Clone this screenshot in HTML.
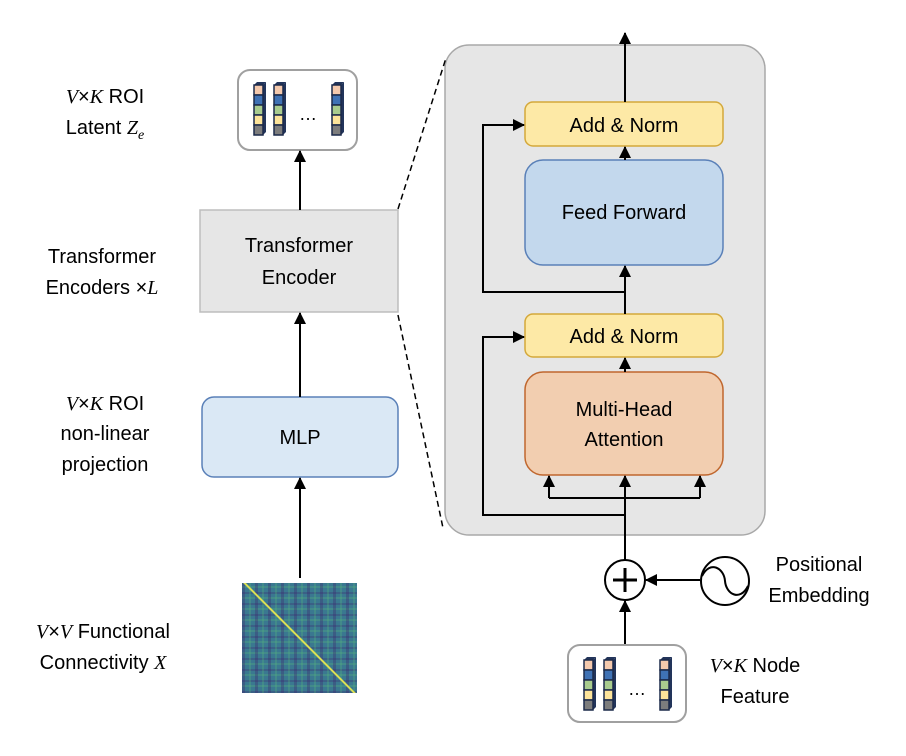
<!DOCTYPE html>
<html><head><meta charset="utf-8"><style>
body{margin:0;background:#fff;}
svg text{font-family:"Liberation Sans",sans-serif;}
.hm{position:absolute;left:242px;top:583px;width:115px;height:110px;
background:
linear-gradient(45deg,transparent 49.2%,#d6e05a 49.6%,#e8e64a 50.4%,transparent 50.8%),
repeating-linear-gradient(90deg,rgba(60,40,110,.35) 0 3px,transparent 3px 7px,rgba(90,190,120,.25) 7px 9px,transparent 9px 13px),
repeating-linear-gradient(0deg,rgba(60,40,110,.3) 0 2px,transparent 2px 6px,rgba(90,190,120,.25) 6px 8px,transparent 8px 11px),
#3a7890;}
</style></head><body>
<div class="hm"></div>
<svg width="906" height="756" style="position:absolute;left:0;top:0" xmlns="http://www.w3.org/2000/svg">
<defs>
<marker id="a" markerWidth="12" markerHeight="12" refX="11" refY="6" orient="auto" markerUnits="userSpaceOnUse"><path d="M0,0 L12,6 L0,12 z" fill="#000"/></marker>
<g id="col">
<polygon points="0,0 3,-3 12,-3 9,0" fill="#22345a"/>
<polygon points="9,0 12,-3 12,47 9,50" fill="#22345a"/>
<rect x="0" y="0" width="9" height="10" fill="#f4c9ad" stroke="#1c2a4a" stroke-width="1.5"/>
<rect x="0" y="10" width="9" height="10" fill="#3f72b5" stroke="#1c2a4a" stroke-width="1.5"/>
<rect x="0" y="20" width="9" height="10" fill="#a9cc8e" stroke="#1c2a4a" stroke-width="1.5"/>
<rect x="0" y="30" width="9" height="10" fill="#fde49a" stroke="#1c2a4a" stroke-width="1.5"/>
<rect x="0" y="40" width="9" height="10" fill="#7d7d7d" stroke="#1c2a4a" stroke-width="1.5"/>
</g>
</defs>
<rect x="445" y="45" width="320" height="490" rx="24" fill="#e6e6e6" stroke="#a8a8a8" stroke-width="1.5"/>
<line x1="398" y1="209" x2="446" y2="58" stroke="#000" stroke-width="1.5" stroke-dasharray="6,4"/>
<line x1="398" y1="315" x2="443" y2="528" stroke="#000" stroke-width="1.5" stroke-dasharray="6,4"/>
<rect x="238" y="70" width="119" height="80" rx="12" fill="#fff" stroke="#a0a0a0" stroke-width="2"/>
<use href="#col" x="254" y="85"/><use href="#col" x="274" y="85"/><use href="#col" x="332" y="85"/>
<text x="308" y="120" font-size="18" text-anchor="middle">…</text>
<rect x="200" y="210" width="198" height="102" fill="#e6e6e6" stroke="#bdbdbd" stroke-width="1.5"/>
<text x="299" y="252" font-size="20" text-anchor="middle">Transformer</text>
<text x="299" y="284" font-size="20" text-anchor="middle">Encoder</text>
<rect x="202" y="397" width="196" height="80" rx="12" fill="#dae8f5" stroke="#5a80b8" stroke-width="1.5"/>
<text x="300" y="444" font-size="20" text-anchor="middle">MLP</text>
<line x1="300" y1="578" x2="300" y2="478" stroke="#000" stroke-width="2" marker-end="url(#a)"/>
<line x1="300" y1="397" x2="300" y2="313" stroke="#000" stroke-width="2" marker-end="url(#a)"/>
<line x1="300" y1="210" x2="300" y2="151" stroke="#000" stroke-width="2" marker-end="url(#a)"/>
<g font-size="20" text-anchor="middle">
<text x="105" y="103"><tspan font-family="Liberation Serif" font-style="italic">V</tspan>×<tspan font-family="Liberation Serif" font-style="italic">K</tspan> ROI</text>
<text x="105" y="134">Latent <tspan font-family="Liberation Serif" font-style="italic">Z</tspan><tspan font-family="Liberation Serif" font-style="italic" font-size="14" dy="5">e</tspan></text>
<text x="102" y="263">Transformer</text>
<text x="102" y="294">Encoders ×<tspan font-family="Liberation Serif" font-style="italic">L</tspan></text>
<text x="105" y="410"><tspan font-family="Liberation Serif" font-style="italic">V</tspan>×<tspan font-family="Liberation Serif" font-style="italic">K</tspan>  ROI</text>
<text x="105" y="440">non-linear</text>
<text x="105" y="471">projection</text>
<text x="103" y="638"><tspan font-family="Liberation Serif" font-style="italic">V</tspan>×<tspan font-family="Liberation Serif" font-style="italic">V</tspan> Functional</text>
<text x="103" y="669">Connectivity <tspan font-family="Liberation Serif" font-style="italic">X</tspan></text>
</g>
<rect x="525" y="102" width="198" height="44" rx="8" fill="#fde9a6" stroke="#d4a83a" stroke-width="1.5"/>
<text x="624" y="132" font-size="20" text-anchor="middle">Add &amp; Norm</text>
<rect x="525" y="160" width="198" height="105" rx="18" fill="#c3d8ed" stroke="#5a80b8" stroke-width="1.5"/>
<text x="624" y="219" font-size="20" text-anchor="middle">Feed Forward</text>
<rect x="525" y="314" width="198" height="43" rx="8" fill="#fde9a6" stroke="#d4a83a" stroke-width="1.5"/>
<text x="624" y="343" font-size="20" text-anchor="middle">Add &amp; Norm</text>
<rect x="525" y="372" width="198" height="103" rx="18" fill="#f2ceb0" stroke="#c0672e" stroke-width="1.5"/>
<text x="624" y="416" font-size="20" text-anchor="middle">Multi-Head</text>
<text x="624" y="446" font-size="20" text-anchor="middle">Attention</text>
<g stroke="#000" stroke-width="2" fill="none">
<line x1="625" y1="102" x2="625" y2="33" marker-end="url(#a)"/>
<line x1="625" y1="160" x2="625" y2="147" marker-end="url(#a)"/>
<line x1="625" y1="314" x2="625" y2="266" marker-end="url(#a)"/>
<line x1="625" y1="372" x2="625" y2="358" marker-end="url(#a)"/>
<polyline points="625,292 483,292 483,125 524,125" marker-end="url(#a)"/>
<polyline points="625,515 483,515 483,337 524,337" marker-end="url(#a)"/>
<line x1="625" y1="560" x2="625" y2="476" marker-end="url(#a)"/>
<polyline points="549,498 700,498"/>
<line x1="549" y1="498" x2="549" y2="476" marker-end="url(#a)"/>
<line x1="700" y1="498" x2="700" y2="476" marker-end="url(#a)"/>
<line x1="625" y1="645" x2="625" y2="601" marker-end="url(#a)"/>
<line x1="700" y1="580" x2="646" y2="580" marker-end="url(#a)"/>
<circle cx="625" cy="580" r="20" fill="#fff"/>
<line x1="613" y1="580" x2="637" y2="580" stroke-width="3"/>
<line x1="625" y1="568" x2="625" y2="592" stroke-width="3"/>
<circle cx="725" cy="581" r="24" fill="#fff"/>
<path d="M702,576 C710,560 724,568 725,581 C726,594 740,602 748,586"/>
</g>
<text x="819" y="571" font-size="20" text-anchor="middle">Positional</text>
<text x="819" y="602" font-size="20" text-anchor="middle">Embedding</text>
<rect x="568" y="645" width="118" height="77" rx="12" fill="#fff" stroke="#a0a0a0" stroke-width="2"/>
<use href="#col" x="584" y="660"/><use href="#col" x="604" y="660"/><use href="#col" x="660" y="660"/>
<text x="637" y="695" font-size="18" text-anchor="middle">…</text>
<text x="755" y="672" font-size="20" text-anchor="middle"><tspan font-family="Liberation Serif" font-style="italic">V</tspan>×<tspan font-family="Liberation Serif" font-style="italic">K</tspan> Node</text>
<text x="755" y="703" font-size="20" text-anchor="middle">Feature</text>
</svg>
</body></html>
